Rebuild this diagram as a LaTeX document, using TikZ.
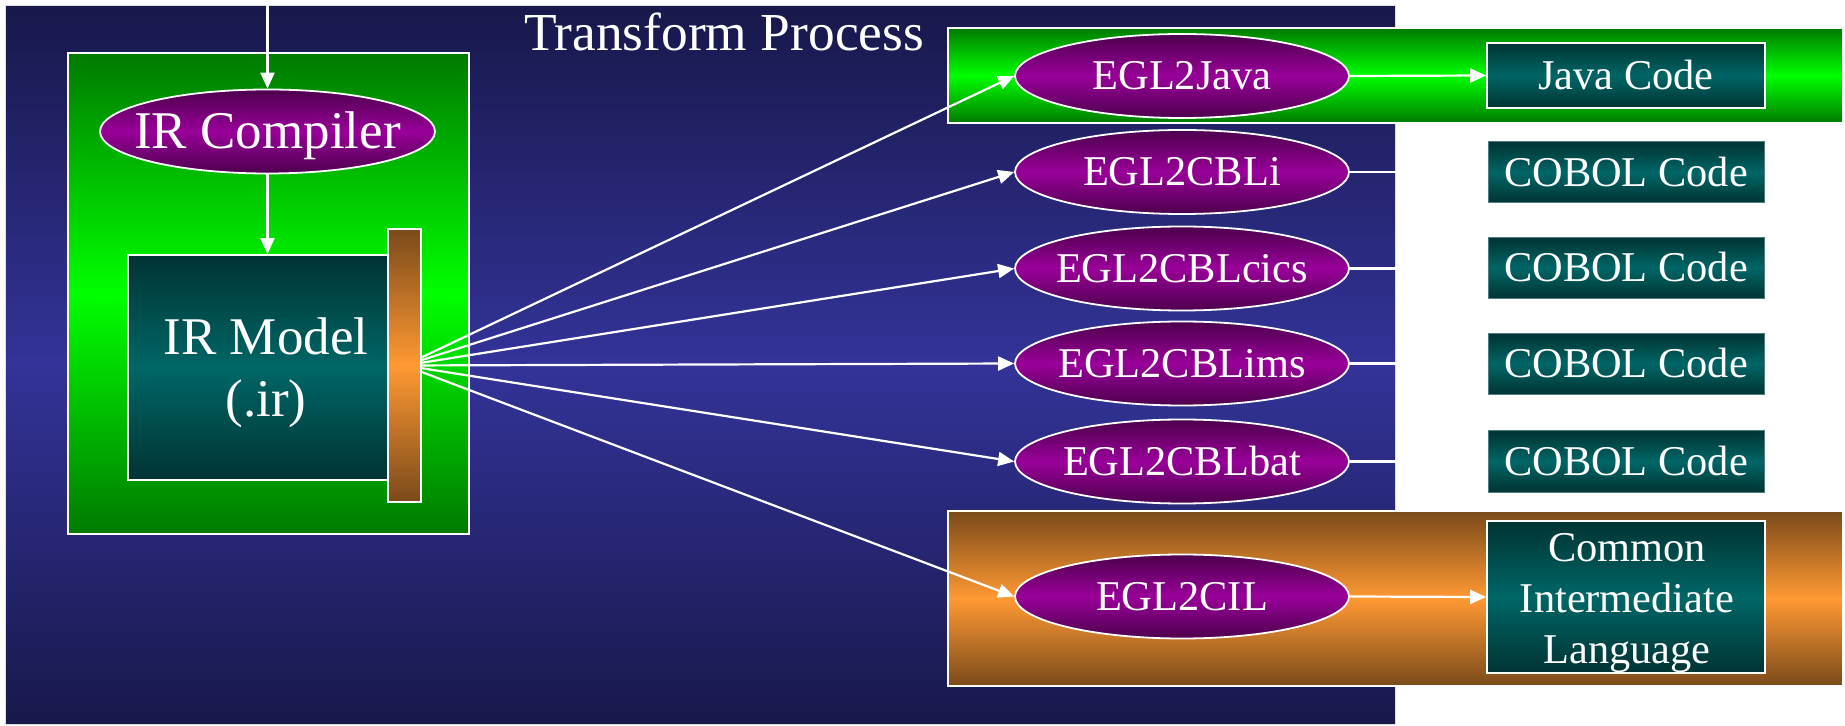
\documentclass[tikz,border=0pt]{standalone}
\usepackage{fontspec}
\setmainfont{Liberation Serif}
\usetikzlibrary{shapes.geometric,arrows.meta,calc}
\definecolor{navyD}{HTML}{18184B}
\definecolor{navyL}{HTML}{333399}
\definecolor{grnD}{HTML}{007A00}
\definecolor{grnL}{HTML}{00FF00}
\definecolor{purD}{HTML}{4D004D}
\definecolor{purL}{HTML}{990099}
\definecolor{tealD}{HTML}{003333}
\definecolor{tealL}{HTML}{006666}
\definecolor{orgD}{HTML}{7A4A1A}
\definecolor{orgL}{HTML}{FF9933}
\tikzset{
  bigtxt/.style={font=\fontsize{26.5}{31}\selectfont},
  smtxt/.style={font=\fontsize{21.2}{25.5}\selectfont},
  capc/.style={text height=14pt, text depth=0pt},
  capbig/.style={text height=17.5pt, text depth=0pt},
  panelbox/.style={rectangle, inner sep=0pt, top color=navyD, bottom color=navyD, middle color=navyL, draw=white!75!gray, line width=0.5pt},
  greenbox/.style={rectangle, inner sep=0pt, top color=grnD, bottom color=grnD, middle color=grnL, draw=white, line width=0.9pt},
  orangebox/.style={rectangle, inner sep=0pt, top color=orgD, bottom color=orgD, middle color=orgL, draw=white, line width=0.9pt},
  tealbox/.style={rectangle, inner sep=0pt, top color=tealD, bottom color=tealD, middle color=tealL, draw=white, line width=0.9pt, text=white, align=center},
  cobolbox/.style={tealbox, capc, draw=gray!60!teal, line width=0.5pt, minimum width=138pt, minimum height=30.5pt, smtxt},
  egl/.style={ellipse, capc, inner ysep=0pt, inner xsep=-15pt, top color=purD, bottom color=purD, middle color=purL, draw=white, line width=0.9pt, text=white, minimum width=167pt, minimum height=42pt, smtxt},
  conn/.style={draw=white, line width=1.1pt},
  arr/.style={conn, -{Triangle[length=8pt,width=7pt]}}
}
\begin{document}
\begin{tikzpicture}[x=0.5pt,y=-0.5pt]
\useasboundingbox[fill=white] (0,0) rectangle (1845,726);
% big panel
\node[panelbox, minimum width=695pt, minimum height=359pt] (panel) at (700,365) {};
\node[text=white, font=\fontsize{26.7}{31}\selectfont, inner sep=0pt] (title) at (724,32) {Transform Process};
% left group
\node[greenbox, minimum width=200.5pt, minimum height=240.5pt] (lgreen) at (268.5,293.5) {};
\node[tealbox, minimum width=130pt, minimum height=112.5pt] (model) at (258,367.5) {};
\node[text=white, bigtxt, align=center, inner sep=0pt] (modeltxt) at (266,373) {IR Model\\(.ir)};
\node[orangebox, minimum width=16.5pt, minimum height=136.5pt] (bar) at (404.5,365.5) {};
\node[egl, capbig, minimum width=167.5pt, bigtxt] (comp) at (267.5,131.5) {IR Compiler};
\coordinate (topin) at (267.5,0);
% right bands
\node[greenbox, minimum width=447.5pt, minimum height=47.5pt] (gband) at (1395.5,75.5) {};
\node[orangebox, minimum width=447.5pt, minimum height=87.5pt] (oband) at (1395.5,598.5) {};
% transforms
\node[egl] (e1) at (1182,76) {EGL2Java};
\node[egl] (e2) at (1182,172) {EGL2CBLi};
\node[egl] (e3) at (1182,268.5) {EGL2CBLcics};
\node[egl] (e4) at (1182,363.5) {EGL2CBLims};
\node[egl] (e5) at (1182,461.5) {EGL2CBLbat};
\node[egl] (e6) at (1182,596.5) {EGL2CIL};
% outputs
\node[tealbox, capc, smtxt, minimum width=139pt, minimum height=32.5pt] (java) at (1626,75.5) {Java Code};
\node[cobolbox] (c1) at (1626,172.5) {COBOL Code};
\node[cobolbox] (c2) at (1626,268) {COBOL Code};
\node[cobolbox] (c3) at (1626,364) {COBOL Code};
\node[cobolbox] (c4) at (1626,461.5) {COBOL Code};
\node[tealbox, minimum width=139pt, minimum height=76pt] (cil) at (1626,597) {};
\node[text=white, align=center, inner sep=0pt, font=\fontsize{21.2}{25.5}\selectfont] (ciltxt) at (1627,603) {Common\\Intermediate\\Language};
% connectors
\draw[arr] (topin) -- (comp.north);
\draw[arr] (comp.south) -- (comp.south |- model.north);
\foreach \e in {e1,e2,e3,e4,e5,e6}{
  \draw[arr] (bar) -- (\e.west);
}
\draw[arr] (e1.east) -- (java.west);
\draw[arr] (e6.east) -- (cil.west);
\foreach \e in {e2,e3,e4,e5}{
  \draw[conn] (\e.east) -- (\e.east -| panel.east);
}
\end{tikzpicture}
\end{document}
